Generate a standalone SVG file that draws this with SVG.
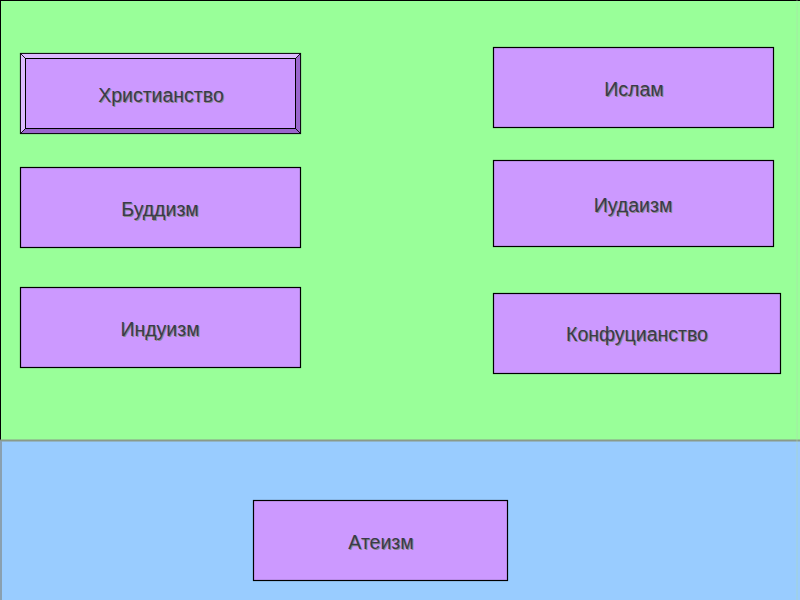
<svg xmlns="http://www.w3.org/2000/svg" width="800" height="600" viewBox="0 0 800 600">
<style>
.box{fill:#cc99ff;stroke:#000;stroke-width:1.2}
.lbl{font-family:"Liberation Sans",Arial,sans-serif;font-size:19.5px;fill:#3a3a4a;text-anchor:middle}
.sh{font-family:"Liberation Sans",Arial,sans-serif;font-size:19.5px;fill:#8a8a8a;text-anchor:middle}
</style>
<rect x="0" y="0" width="800" height="440" fill="#99ff99"/>
<rect x="0" y="440" width="800" height="160" fill="#99ccff"/>
<line x1="0" y1="0.5" x2="800" y2="0.5" stroke="#000" stroke-width="1"/>
<line x1="0.5" y1="0" x2="0.5" y2="440" stroke="#000" stroke-width="1"/>
<line x1="0" y1="440.5" x2="800" y2="440.5" stroke="#8a9a8a" stroke-width="2"/>
<line x1="1" y1="441" x2="1" y2="600" stroke="#8aa0b0" stroke-width="2"/>
<line x1="797" y1="0" x2="797" y2="600" stroke="#b0d8b0" stroke-width="1" opacity="0.5"/>
<g id="christianity">
<rect x="20.5" y="53.5" width="280" height="80" fill="#cc99ff" stroke="#000" stroke-width="1.2"/>
<polygon points="20.5,53.5 300.5,53.5 295.5,58.5 25.5,58.5" fill="#ddbbff" stroke="#000" stroke-width="0.8"/>
<polygon points="20.5,53.5 25.5,58.5 25.5,128.5 20.5,133.5" fill="#ddbbff" stroke="#000" stroke-width="0.8"/>
<polygon points="300.5,53.5 300.5,133.5 295.5,128.5 295.5,58.5" fill="#9966cc" stroke="#000" stroke-width="0.8"/>
<polygon points="20.5,133.5 300.5,133.5 295.5,128.5 25.5,128.5" fill="#9966cc" stroke="#000" stroke-width="0.8"/>
<rect x="25.5" y="58.5" width="270" height="70" fill="#cc99ff" stroke="#000" stroke-width="1"/>
<text class="sh" x="162" y="103">Христианство</text>
<text class="lbl" x="161" y="102">Христианство</text>
</g>
<g id="buddhism">
<rect class="box" x="20.5" y="167.5" width="280" height="80"/>
<text class="sh" x="161" y="217">Буддизм</text>
<text class="lbl" x="160" y="216">Буддизм</text>
</g>
<g id="hinduism">
<rect class="box" x="20.5" y="287.5" width="280" height="80"/>
<text class="sh" x="161" y="337">Индуизм</text>
<text class="lbl" x="160" y="336">Индуизм</text>
</g>
<g id="islam">
<rect class="box" x="493.5" y="47.5" width="280" height="80"/>
<text class="sh" x="635" y="97">Ислам</text>
<text class="lbl" x="634" y="96">Ислам</text>
</g>
<g id="judaism">
<rect class="box" x="493.5" y="160.5" width="280" height="86"/>
<text class="sh" x="634" y="213">Иудаизм</text>
<text class="lbl" x="633" y="212">Иудаизм</text>
</g>
<g id="confucianism">
<rect class="box" x="493.5" y="293.5" width="287" height="80"/>
<text class="sh" x="638" y="342">Конфуцианство</text>
<text class="lbl" x="637" y="341">Конфуцианство</text>
</g>
<g id="atheism">
<rect class="box" x="253.5" y="500.5" width="254" height="80"/>
<text class="sh" x="382" y="550">Атеизм</text>
<text class="lbl" x="381" y="549">Атеизм</text>
</g>
<g id="connectors"></g>
</svg>
